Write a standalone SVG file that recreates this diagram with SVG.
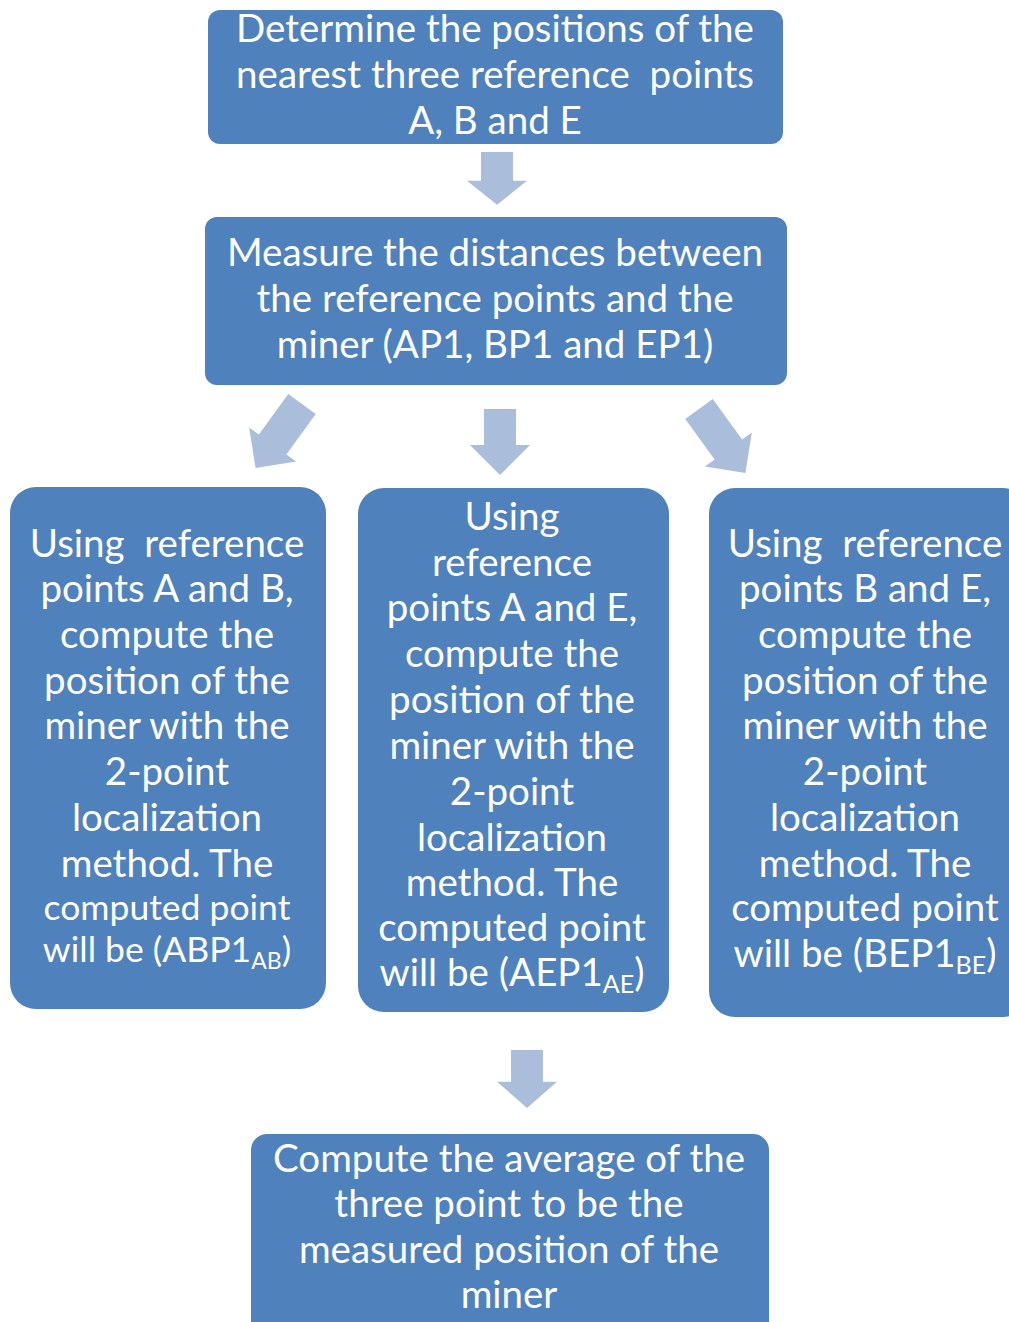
<svg xmlns="http://www.w3.org/2000/svg" width="1009" height="1322" viewBox="0 0 1009 1322">
<style>
.box{fill:#4F81BD;}
.arr{fill:#AABEDB;}
text{font-family:Lato,"Open Sans","Liberation Sans",sans-serif;font-size:38.5px;fill:#FFFFFF;text-anchor:middle;}
.sm{font-size:35.5px;}
</style>
<defs>
<polygon id="dn" points="-16,0 16,0 16,36 30,36 0,66 -30,36 -16,36"/>
<polygon id="dg" points="-17,0 17,0 17,50 29,50 0,79 -29,50 -17,50"/>
</defs>
<rect width="1009" height="1322" fill="#FFFFFF"/>
<g id="connectors">
<use href="#dn" class="arr" transform="translate(497,152) scale(1,0.8)"/>
<use href="#dg" class="arr" transform="translate(302,404) rotate(36)"/>
<use href="#dn" class="arr" transform="translate(500,409)"/>
<use href="#dg" class="arr" transform="translate(699,409) rotate(-36)"/>
<use href="#dn" class="arr" transform="translate(527,1050) scale(1,0.88)"/>
</g>
<g id="n1">
<rect class="box" x="208" y="10" width="575" height="134" rx="12"/>
<text x="495" y="42">Determine the positions of the</text>
<text x="495" y="88" xml:space="preserve">nearest three reference  points</text>
<text x="495" y="134">A, B and E</text>
</g>
<g id="n2">
<rect class="box" x="205" y="217" width="582" height="168" rx="12"/>
<text x="495" y="266">Measure the distances between</text>
<text x="495" y="312">the reference points and the</text>
<text x="495" y="358">miner (AP1, BP1 and EP1)</text>
</g>
<g id="n3">
<rect class="box" x="10" y="487" width="316" height="522" rx="26"/>
<text x="167" y="557" xml:space="preserve">Using  reference</text>
<text x="167" y="602">points A and B,</text>
<text x="167" y="648">compute the</text>
<text x="167" y="694">position of the</text>
<text x="167" y="739">miner with the</text>
<text x="167" y="785">2-point</text>
<text x="167" y="831">localization</text>
<text x="167" y="877">method. The</text>
<text class="sm" x="167" y="920">computed point</text>
<text class="sm" x="167" y="962">will be (ABP1<tspan font-size="23" dy="7">AB</tspan><tspan dy="-7">)</tspan></text>
</g>
<g id="n4">
<rect class="box" x="358" y="488" width="311" height="524" rx="26"/>
<text x="512" y="530">Using</text>
<text x="512" y="576">reference</text>
<text x="512" y="621">points A and E,</text>
<text x="512" y="667">compute the</text>
<text x="512" y="713">position of the</text>
<text x="512" y="759">miner with the</text>
<text x="512" y="805">2-point</text>
<text x="512" y="851">localization</text>
<text x="512" y="896">method. The</text>
<text x="512" y="941">computed point</text>
<text x="512" y="986">will be (AEP1<tspan font-size="25" dy="7">AE</tspan><tspan dy="-7">)</tspan></text>
</g>
<g id="n5">
<rect class="box" x="709" y="488" width="320" height="529" rx="26"/>
<text x="865" y="557" xml:space="preserve">Using  reference</text>
<text x="865" y="602">points B and E,</text>
<text x="865" y="648">compute the</text>
<text x="865" y="694">position of the</text>
<text x="865" y="739">miner with the</text>
<text x="865" y="785">2-point</text>
<text x="865" y="831">localization</text>
<text x="865" y="877">method. The</text>
<text x="865" y="921">computed point</text>
<text x="865" y="967">will be (BEP1<tspan font-size="25" dy="7">BE</tspan><tspan dy="-7">)</tspan></text>
</g>
<g id="n6">
<rect class="box" x="251" y="1134" width="518" height="210" rx="16"/>
<text x="509" y="1172">Compute the average of the</text>
<text x="509" y="1217">three point to be the</text>
<text x="509" y="1263">measured position of the</text>
<text x="509" y="1308">miner</text>
</g>
</svg>
